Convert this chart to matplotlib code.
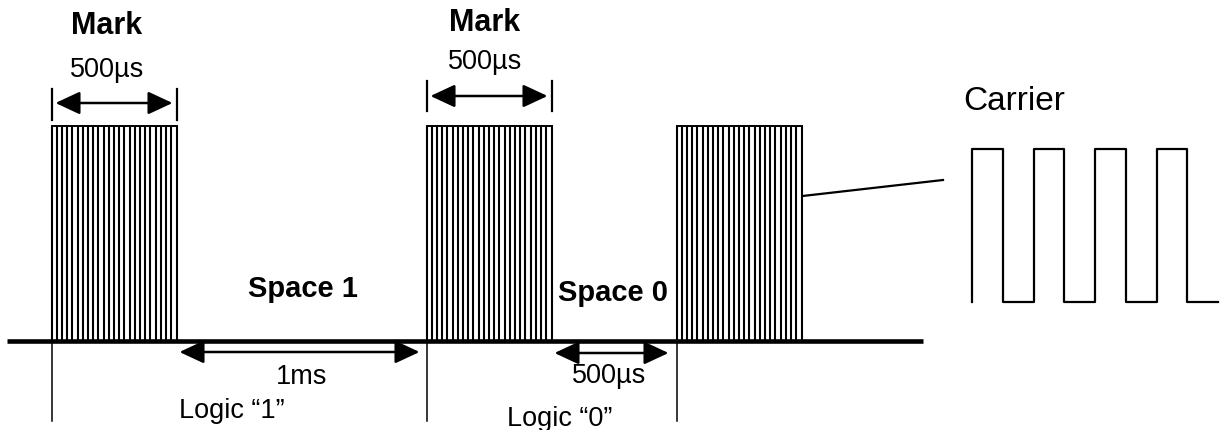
import numpy as np
import matplotlib
matplotlib.use("Agg")
import matplotlib.pyplot as plt

plt.rcParams['font.family'] = ['Liberation Sans', 'DejaVu Sans']

# ---- data ----
segments = ["Mark", "Space 1", "Mark", "Space 0", "Mark"]
durations_us = [500, 1000, 500, 500, 500]
levels = [1, 0, 1, 0, 1]
pulses_per_mark = 25
carrier_cycles = 4
mark_width_label = "500µs"
space1_label = "1ms"
space0_label = "500µs"
logic_labels = ["Logic \u201c1\u201d", "Logic \u201c0\u201d"]
carrier_label = "Carrier"

W, H = 1222, 431
fig = plt.figure(figsize=(W / 100, H / 100), dpi=100)
ax = fig.add_axes([0, 0, 1, 1])

# pixel -> data helpers (layout only)
X0, SX = 51.5, 0.25          # px at t=0, px per µs
Y0, SY = 341.5, 214.5        # baseline px, px per unit level
def dx(px):
    return (px - X0) / SX
def dy(py):
    return (Y0 - py) / SY

ax.set_xlim(dx(0), dx(W))
ax.set_ylim(dy(H), dy(0))
ax.axis('off')

starts = np.concatenate([[0], np.cumsum(durations_us)[:-1]])
ends = starts + np.array(durations_us)

# baseline
ax.plot([dx(7), dx(923)], [0, 0], color='black', lw=3.3, solid_capstyle='butt', zorder=3)

# bursts
for s, e, lv in zip(starts, ends, levels):
    if lv:
        xs = np.linspace(s, e, pulses_per_mark)
        ax.vlines(xs, 0, lv, color='black', lw=1.5, zorder=2)
        ax.plot([s, e], [lv, lv], color='black', lw=1.4, zorder=2)

# tick lines below baseline at bit boundaries
mark_starts = [s for s, lv in zip(starts, levels) if lv]
for s in mark_starts:
    ax.plot([s, s], [0, dy(422)], color='black', lw=1.1, zorder=2)

arrow_kw = dict(arrowstyle='<|-|>,head_length=1.5,head_width=0.7', color='black',
                lw=1.8, mutation_scale=10, shrinkA=0, shrinkB=0)

# mark width arrows
mark_idx = [i for i, lv in enumerate(levels) if lv][:2]
mark_arrow_y = [104, 97]
mark_bar_y = [(90, 121), (82, 112)]
mark_text_y = [(26, 70), (23, 62)]
mark_text_x = [107, 485]
for i, ay, (b0, b1), (ty1, ty2), tx in zip(mark_idx, mark_arrow_y, mark_bar_y, mark_text_y, mark_text_x):
    s, e = starts[i], ends[i]
    ax.plot([s, s], [dy(b0), dy(b1)], color='black', lw=1.6)
    ax.plot([e, e], [dy(b0), dy(b1)], color='black', lw=1.6)
    ax.annotate('', xy=(e - 4 / SX, dy(ay)), xytext=(s + 4 / SX, dy(ay)),
                arrowprops=arrow_kw)
    ax.text(dx(tx), dy(ty1), segments[i], ha='center', va='center', fontsize=22, fontweight='bold')
    ax.text(dx(tx), dy(ty2), mark_width_label, ha='center', va='center', fontsize=19.5)

# space arrows
ax.annotate('', xy=(ends[1] - 7 / SX, dy(353)), xytext=(starts[1] + 3 / SX, dy(353)), arrowprops=arrow_kw)
ax.annotate('', xy=(ends[3] - 8 / SX, dy(354)), xytext=(starts[3] + 3 / SX, dy(354)), arrowprops=arrow_kw)

ax.text(dx(303), dy(289), segments[1], ha='center', va='center', fontsize=21, fontweight='bold')
ax.text(dx(613), dy(293), segments[3], ha='center', va='center', fontsize=21, fontweight='bold')
ax.text(dx(302), dy(377), space1_label, ha='center', va='center', fontsize=19.5)
ax.text(dx(609), dy(376), space0_label, ha='center', va='center', fontsize=19.5)
ax.text(dx(232), dy(411), logic_labels[0], ha='center', va='center', fontsize=19.5)
ax.text(dx(560), dy(419), logic_labels[1], ha='center', va='center', fontsize=19.5)

# connector to carrier
ax.plot([ends[4] + 1 / SX, dx(943)], [dy(197), dy(181)], color='black', lw=1.6)

ax.text(dx(1014), dy(102), carrier_label, ha='center', va='center', fontsize=24)

# carrier waveform
cax = fig.add_axes([972 / W, (H - 303) / H, 246 / W, 153 / H])
cax.set_xlim(0, carrier_cycles)
cax.set_ylim(0, 1)
cax.axis('off')
cx, cy = [], []
for k in range(carrier_cycles):
    cx += [k, k, k + 0.5, k + 0.5]
    cy += [0, 1, 1, 0]
cx.append(carrier_cycles)
cy.append(0)
cax.plot(cx, cy, color='black', lw=1.6, clip_on=False)

fig.savefig('out.png', dpi=100)
